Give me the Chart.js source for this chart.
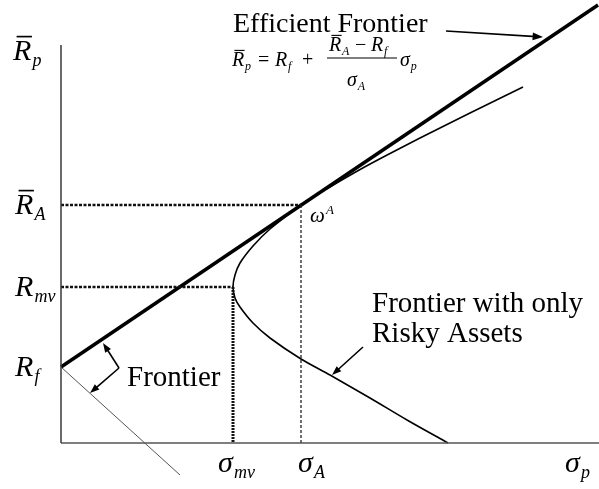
<!DOCTYPE html>
<html>
<head>
<meta charset="utf-8">
<script src="https://cdn.jsdelivr.net/npm/chart.js@4.4.1/dist/chart.umd.min.js"></script>
<style>
  html, body { margin: 0; padding: 0; background: #fff; }
  #wrap { width: 599px; height: 489px; position: relative; }
</style>
</head>
<body>
<div id="wrap"><canvas id="frontier"></canvas></div>
<script>
'use strict';

// risk-free rate, tangency portfolio A and minimum-variance portfolio
const riskFree = 76;
const sigmaA = 240;
const returnA = 238;
const sigmaMv = 172;
const returnMv = 156;

// frontier of risky assets only (upper end -> vertex -> lower end)
const riskySigma = [462, 409, 359, 330, 300, 269, 240, 209, 192, 179, 174, 172, 174, 179, 192, 209, 240, 269, 309, 346, 387];
const riskyReturn = [356, 330, 305, 290, 274, 256, 238, 214, 197, 180, 168, 156, 145, 136, 120, 105, 84, 68, 45, 23, 0];

// capital market line (efficient frontier with a risk-free asset)
const cmlSigma = [0, 537];
const cmlReturn = [76, 438];

// lower ray out of the risk-free point
const lowRaySigma = [0, 119];
const lowRayReturn = [76, -32];

// axes
const yAxisTop = 398;
const xAxisEnd = 538;

// tick labels
const yTickValues = [returnA, returnMv, riskFree];
const yTickSubs = ['A', 'mv', 'f'];
const yTickBars = [true, false, false];
const xTickValues = [sigmaMv, sigmaA, 504];
const xTickSubs = ['mv', 'A', 'p'];

const serif = '"Liberation Serif", "Times New Roman", serif';

function pts(xs, ys) {
  return xs.map((x, i) => ({ x: x, y: ys[i] }));
}

function lineSet(data, color, width, dash) {
  return {
    data: data,
    showLine: true,
    borderColor: color,
    borderWidth: width,
    borderDash: dash || [],
    pointRadius: 0,
    fill: false,
    tension: 0,
  };
}

// italic symbol with optional overbar, subscript and superscript
function drawSym(ctx, x, y, main, size, sub, bar, sup) {
  ctx.font = 'italic ' + size + 'px ' + serif;
  ctx.fillText(main, x, y);
  const w = ctx.measureText(main).width;
  if (bar) {
    ctx.save();
    ctx.lineWidth = Math.max(1, size / 18);
    ctx.beginPath();
    ctx.moveTo(x + size * 0.12, y - size * 0.78);
    ctx.lineTo(x + w + size * 0.02, y - size * 0.78);
    ctx.stroke();
    ctx.restore();
  }
  let end = x + w;
  if (sub) {
    ctx.font = 'italic ' + Math.round(size * 0.6) + 'px ' + serif;
    ctx.fillText(sub, x + w + size * 0.04, y + size * 0.2);
    end = x + w + size * 0.04 + ctx.measureText(sub).width;
  }
  if (sup) {
    ctx.font = 'italic ' + Math.round(size * 0.6) + 'px ' + serif;
    ctx.fillText(sup, x + w + size * 0.05, y - size * 0.38);
  }
  return end;
}

function arrow(ctx, x1, y1, x2, y2, head) {
  const a = Math.atan2(y2 - y1, x2 - x1);
  ctx.beginPath();
  ctx.moveTo(x1, y1);
  ctx.lineTo(x2 - Math.cos(a) * head * 0.6, y2 - Math.sin(a) * head * 0.6);
  ctx.stroke();
  ctx.beginPath();
  ctx.moveTo(x2, y2);
  ctx.lineTo(x2 - head * Math.cos(a - 0.35), y2 - head * Math.sin(a - 0.35));
  ctx.lineTo(x2 - head * Math.cos(a + 0.35), y2 - head * Math.sin(a + 0.35));
  ctx.closePath();
  ctx.fill();
}

// labels, formula and arrows on top of the lines
const labelPlugin = {
  id: 'labels',
  afterDatasetsDraw(chart) {
    const ctx = chart.ctx;
    const xs = chart.scales.x;
    const ys = chart.scales.y;
    const px = v => xs.getPixelForValue(v);
    const py = v => ys.getPixelForValue(v);
    ctx.save();
    ctx.fillStyle = '#000';
    ctx.strokeStyle = '#000';
    ctx.textBaseline = 'alphabetic';

    // axis titles and tick labels
    drawSym(ctx, px(-48), py(383), 'R', 30, 'p', true);
    yTickValues.forEach((v, i) => {
      drawSym(ctx, 15, py(v) + 9, 'R', 30, yTickSubs[i], yTickBars[i]);
    });
    const xShift = [-15, -3, 0];
    xTickValues.forEach((v, i) => {
      drawSym(ctx, px(v) + xShift[i], 472, '\u03C3', 30, xTickSubs[i]);
    });

    // tangency point label
    drawSym(ctx, px(sigmaA) + 9, py(returnA) + 17, '\u03C9', 21, null, false, 'A');

    // text labels
    ctx.font = '28px ' + serif;
    ctx.fillText('Efficient Frontier', 233, 32);
    ctx.font = '29px ' + serif;
    ctx.fillText('Frontier', 127, 386);
    ctx.fillText('Frontier with only', 372, 312);
    ctx.fillText('Risky Assets', 372, 342);

    // formula of the capital market line
    const fs = 20;
    drawSym(ctx, 232, 66, 'R', fs, 'p', true);
    ctx.font = fs + 'px ' + serif;
    ctx.fillText('=', 258, 66);
    drawSym(ctx, 275, 66, 'R', fs, 'f');
    ctx.font = fs + 'px ' + serif;
    ctx.fillText('+', 302, 66);
    drawSym(ctx, 329, 51, 'R', fs, 'A', true);
    ctx.font = fs + 'px ' + serif;
    ctx.fillText('\u2212', 355, 51);
    drawSym(ctx, 371, 51, 'R', fs, 'f');
    ctx.lineWidth = 1.2;
    ctx.beginPath();
    ctx.moveTo(327, 58);
    ctx.lineTo(397, 58);
    ctx.stroke();
    drawSym(ctx, 347, 86, '\u03C3', fs, 'A');
    drawSym(ctx, 400, 66, '\u03C3', fs, 'p');

    // arrows
    ctx.lineWidth = 1.6;
    arrow(ctx, px(385), py(412), px(482), py(406), 11);
    arrow(ctx, px(58), py(75), px(42), py(100), 10);
    arrow(ctx, px(58), py(75), px(29), py(50), 10);
    arrow(ctx, px(302), py(96), px(271), py(68), 10);
    ctx.restore();
  },
};

const canvas = document.getElementById('frontier');

new Chart(canvas, {
  type: 'scatter',
  data: {
    datasets: [
      // axes
      lineSet(pts([0, 0], [yAxisTop, 0]), '#3a3a3a', 1.5),
      lineSet(pts([0, xAxisEnd], [0, 0]), '#555', 1.5),
      // guide lines to A and to the minimum-variance point
      lineSet(pts([0, sigmaA], [returnA, returnA]), '#111', 2.5, [3, 1.5]),
      lineSet(pts([0, sigmaMv], [returnMv, returnMv]), '#111', 2.5, [3, 1.5]),
      lineSet(pts([sigmaMv, sigmaMv], [returnMv, 0]), '#111', 3, [2, 1]),
      lineSet(pts([sigmaA, sigmaA], [returnA, 0]), '#222', 1.3, [3, 2]),
      // lower ray from the risk-free point
      lineSet(pts(lowRaySigma, lowRayReturn), '#555', 1),
      // risky-asset frontier
      Object.assign(lineSet(pts(riskySigma, riskyReturn), '#000', 1.6), { tension: 0.3 }),
      // efficient frontier
      lineSet(pts(cmlSigma, cmlReturn), '#000', 3.5),
    ],
  },
  options: {
    responsive: true,
    maintainAspectRatio: false,
    animation: false,
    layout: { padding: 0 },
    plugins: {
      legend: { display: false },
      tooltip: { enabled: false },
    },
    scales: {
      x: { type: 'linear', min: -61, max: 538, display: false },
      y: { type: 'linear', min: -46, max: 443, display: false },
    },
  },
  plugins: [labelPlugin],
});
</script>
</body>
</html>
